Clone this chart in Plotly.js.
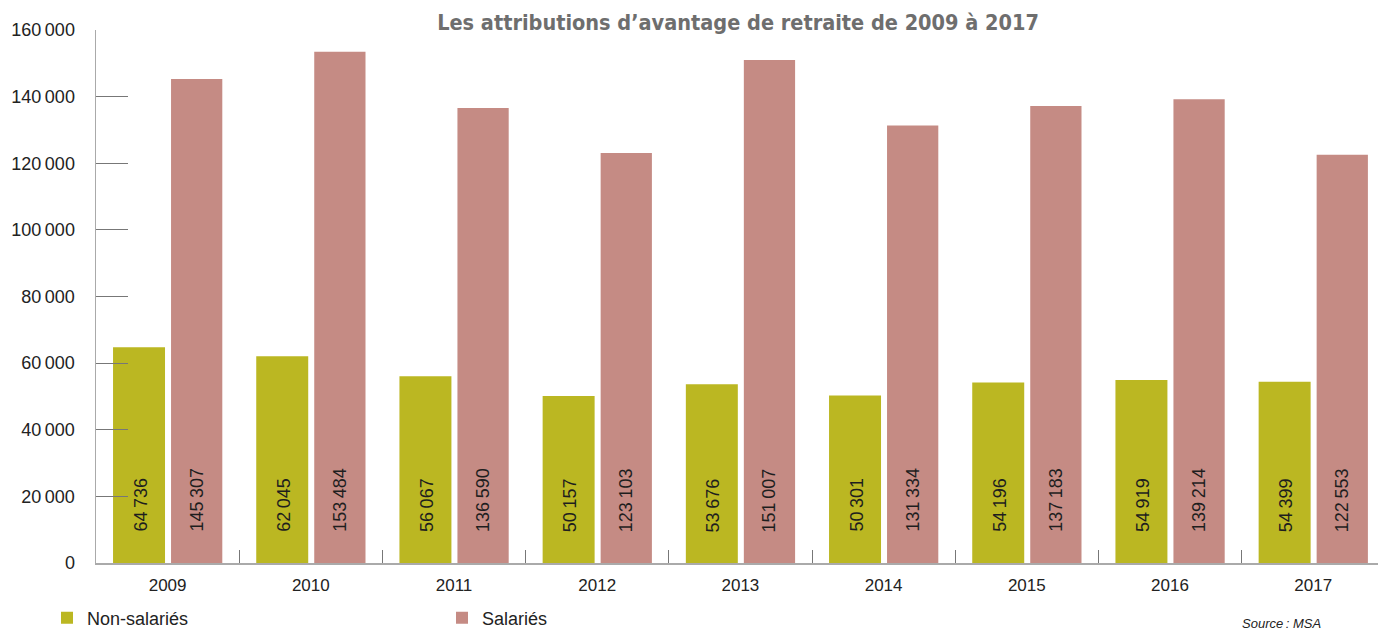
<!DOCTYPE html>
<html>
<head>
<meta charset="utf-8">
<script src="https://cdn.plot.ly/plotly-3.0.1.min.js"></script>
<style>html,body{margin:0;padding:0;background:#fff;}#chart{width:1378px;height:630px;}</style>
</head>
<body>
<div id="chart"></div>
<script>
const years = ['2009','2010','2011','2012','2013','2014','2015','2016','2017'];
const nonSalaries = [64736, 62045, 56067, 50157, 53676, 50301, 54196, 54919, 54399];
const salaries = [145307, 153484, 136590, 123103, 151007, 131334, 137183, 139214, 122553];
const yTickVals = [0, 20000, 40000, 60000, 80000, 100000, 120000, 140000, 160000];
const yTickText = ['0', '20\u202F000', '40\u202F000', '60\u202F000', '80\u202F000', '100\u202F000', '120\u202F000', '140\u202F000', '160\u202F000'];

function fmt(v) {
  return String(v).replace(/\B(?=(\d{3})+(?!\d))/g, '\u202F');
}

const GREEN = '#bbb722';
const PINK = '#c58b84';
const FONT = 'Liberation Sans, Arial, sans-serif';

const traces = [
  {type: 'bar', name: 'Non-salariés', x: years, y: nonSalaries,
   marker: {color: GREEN}, width: 0.363, offset: -0.381, hoverinfo: 'skip'},
  {type: 'bar', name: 'Salariés', x: years, y: salaries,
   marker: {color: PINK}, width: 0.358, offset: 0.024, hoverinfo: 'skip'}
];

const annotations = [];
years.forEach((yr, i) => {
  annotations.push({x: i, y: 0, xref: 'x', yref: 'paper', text: fmt(nonSalaries[i]), textangle: -90,
    showarrow: false, xanchor: 'center', yanchor: 'bottom', xshift: -27, yshift: 29,
    font: {family: FONT, size: 18, color: '#1e1e1e'}});
  annotations.push({x: i, y: 0, xref: 'x', yref: 'paper', text: fmt(salaries[i]), textangle: -90,
    showarrow: false, xanchor: 'center', yanchor: 'bottom', xshift: 29, yshift: 29,
    font: {family: FONT, size: 18, color: '#1e1e1e'}});
});
annotations.push({x: (1240 - 96) / 1282, y: (563 - 623) / 533, xref: 'paper', yref: 'paper', text: '<i>Source\u202F: MSA</i>',
  showarrow: false, xanchor: 'left', yanchor: 'middle', font: {family: FONT, size: 13, color: '#222'}});

const layout = {
  width: 1378, height: 630,
  margin: {l: 96, r: 0, t: 30, b: 67, pad: 0},
  paper_bgcolor: '#fff', plot_bgcolor: '#fff',
  barmode: 'overlay',
  showlegend: true,
  title: {text: 'Les attributions d’avantage de retraite de 2009 à 2017',
    font: {family: '"Liberation Sans Narrow", "DejaVu Sans Condensed", sans-serif', size: 21.5, color: '#6e6e6e', weight: 'bold'},
    x: 738/1378, xanchor: 'center', xref: 'container', y: 1 - 22/630, yanchor: 'middle', yref: 'container'},
  xaxis: {type: 'category', range: [-0.5, -0.5 + 1282/143.2], showgrid: false, zeroline: false,
    showline: true, linecolor: '#aaa', linewidth: 1.5,
    ticks: 'inside', tickson: 'boundaries', ticklen: 13, tickcolor: '#777', tickwidth: 1,
    tickfont: {family: FONT, size: 17, color: '#222'}, ticklabelstandoff: 6, fixedrange: true},
  yaxis: {range: [0, 160000], showgrid: false, zeroline: false,
    showline: true, linecolor: '#aaa', linewidth: 1.5,
    tickvals: yTickVals, ticktext: yTickText,
    ticks: 'inside', ticklen: 32, tickcolor: '#777', tickwidth: 1,
    tickfont: {family: FONT, size: 18, color: '#222'}, ticklabelstandoff: 16, fixedrange: true},
  legend: {orientation: 'h', xref: 'container', yref: 'container', x: 47/1378, y: 12/630,
    xanchor: 'left', yanchor: 'middle', entrywidth: 350, entrywidthmode: 'pixels',
    font: {family: FONT, size: 18, color: '#222'}, bgcolor: 'rgba(0,0,0,0)'},
  annotations: annotations
};

Plotly.newPlot('chart', traces, layout, {displayModeBar: false, staticPlot: true});
</script>
</body>
</html>
